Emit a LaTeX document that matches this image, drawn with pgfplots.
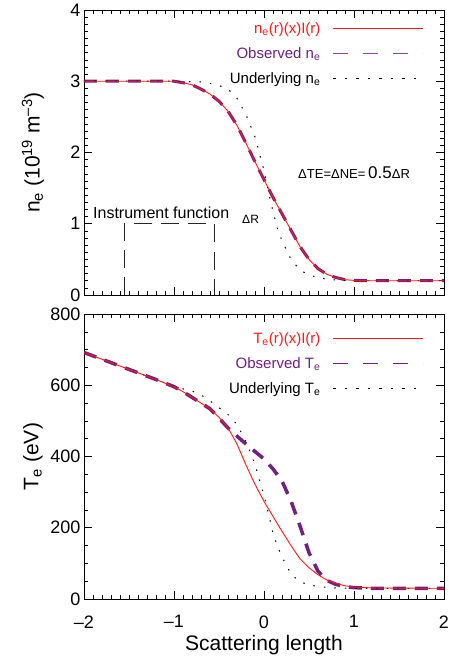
\documentclass[border=0pt]{standalone}
\usepackage{pgfplots}
\pgfplotsset{compat=1.18}
\usepackage{fontspec}
\setmainfont{Liberation Sans}
\definecolor{obs}{RGB}{112,32,128}
\definecolor{redl}{RGB}{255,25,25}
\begin{document}
\begin{tikzpicture}
\pgfplotsset{
  every axis/.append style={
    scale only axis, width=360pt, height=285pt,
    xmin=-2, xmax=2,
    xtick={-2,-1,0,1,2},
    minor x tick num=9,
    tick align=inside,
    major tick length=8pt, minor tick length=4pt,
    every tick/.style={black, line width=0.6pt},
    axis line style={line width=0.8pt},
    tick label style={font=\fontsize{18}{20}\selectfont},
    label style={font=\fontsize{21}{24}\selectfont},
    /pgf/number format/assume math mode=true,
    legend cell align=right, legend plot pos=right,
    legend image code/.code={\draw[#1] (0pt,0pt) -- (90pt,0pt);},
    legend style={draw=none, fill=none, inner sep=0pt, anchor=north east,
      row sep=8.5pt, column sep=10pt,
      font=\fontsize{15}{17}\selectfont},
  },
  every axis y label/.style={at={(axis description cs:0,0.5)}, xshift=-51pt, rotate=90, anchor=center},
  every axis x label/.style={at={(axis description cs:0.5,0)}, yshift=-51pt, anchor=base},
}
% ---------------- top panel ----------------
\begin{axis}[
  at={(0,0)}, anchor=south west,
  ymin=0, ymax=4, ytick={0,1,2,3,4}, minor y tick num=9,
  xticklabels={},
  ylabel={n\textsubscript{e} (10\textsuperscript{19} m\textsuperscript{–3})},
  legend style={at={(axis description cs:0.944,0.964)}},
]
\addplot[obs, line width=3pt, dash pattern=on 13pt off 9pt, forget plot]
coordinates {(-2,3.0) (-1.2,3.0) (-1.0,3.0) (-0.9,2.98) (-0.8,2.95) (-0.7,2.89) (-0.6,2.82) (-0.5,2.72) (-0.4,2.58) (-0.3,2.38) (-0.2,2.13) (-0.1,1.87) (0,1.62) (0.1,1.37) (0.2,1.14) (0.3,0.91) (0.4,0.68) (0.5,0.50) (0.6,0.37) (0.7,0.29) (0.8,0.245) (0.9,0.215) (1.0,0.205) (1.2,0.2) (2,0.2)};
\addplot[black, line width=1pt, dash pattern=on 1.5pt off 9pt, forget plot]
coordinates {(-2,3.0) (-1.0,3.0) (-0.7,2.99) (-0.6,2.97) (-0.5,2.94) (-0.4,2.89) (-0.3,2.76) (-0.2,2.53) (-0.1,2.22) (0,1.75) (0.05,1.45) (0.1,1.17) (0.15,0.93) (0.2,0.76) (0.3,0.50) (0.4,0.35) (0.5,0.28) (0.6,0.245) (0.7,0.225) (0.8,0.21) (1.0,0.2) (2,0.2)};
\addplot[redl, line width=0.9pt, forget plot]
coordinates {(-2,3.0) (-1.2,3.0) (-1.0,3.0) (-0.9,2.98) (-0.8,2.95) (-0.7,2.89) (-0.6,2.82) (-0.5,2.72) (-0.4,2.58) (-0.3,2.38) (-0.2,2.13) (-0.1,1.87) (0,1.62) (0.1,1.37) (0.2,1.14) (0.3,0.91) (0.4,0.68) (0.5,0.50) (0.6,0.37) (0.7,0.29) (0.8,0.245) (0.9,0.215) (1.0,0.205) (1.2,0.2) (2,0.2)};
% instrument function box
\addplot[black!85, line width=1pt, dash pattern=on 18pt off 9pt, forget plot]
coordinates {(-1.55,0) (-1.55,1) (-0.55,1) (-0.55,0)};
\addlegendimage{redl, line width=0.9pt}
\addlegendentry{\textcolor{redl}{n\textsubscript{e}(r)(x)I(r)}}
\addlegendimage{obs!80, line width=1.2pt, dash pattern=on 15pt off 15pt}
\addlegendentry{\textcolor{obs}{Observed n\textsubscript{e}}}
\addlegendimage{black, line width=1pt, dash pattern=on 2.5pt off 9pt}
\addlegendentry{Underlying n\textsubscript{e}}
\node[anchor=base west, inner sep=0pt, font=\fontsize{16}{18}\selectfont] at (axis cs:-1.9,1.08) {Instrument function};
\node[anchor=base west, inner sep=0pt, font=\fontsize{12}{14}\selectfont] at (axis cs:-0.244,1.01) {ΔR};
\node[anchor=base west, inner sep=0pt] at (axis cs:0.378,1.64) {{\fontsize{13}{15}\selectfont ΔTE=ΔNE=} {\fontsize{17}{20}\selectfont 0.5}{\fontsize{13}{15}\selectfont ΔR}};
\end{axis}
% ---------------- bottom panel ----------------
\begin{axis}[
  at={(0,-304pt)}, anchor=south west,
  ymin=0, ymax=800, ytick={0,200,400,600,800}, minor y tick num=3,
  xticklabels={–2,–1,0,1,2},
  xticklabel style={yshift=-13pt},
  ylabel={T\textsubscript{e} (eV)},
  xlabel={Scattering length},
  legend style={at={(axis description cs:0.944,0.943)}},
]
\addplot[obs, line width=3.5pt, dash pattern=on 13pt off 9pt, forget plot]
coordinates {(-2,692) (-1.6,654) (-1.2,616) (-1.0,596) (-0.9,582) (-0.8,566) (-0.7,550) (-0.6,534) (-0.5,508) (-0.4,480) (-0.3,457) (-0.2,435) (-0.1,414) (0,393) (0.1,365) (0.2,331) (0.3,275) (0.4,205) (0.5,130) (0.6,78) (0.7,52) (0.8,41) (0.9,35) (1.0,32) (1.2,30) (2,30)};
\addplot[black, line width=1pt, dash pattern=on 1.5pt off 9pt, forget plot]
coordinates {(-2,692) (-1.6,654) (-1.2,616) (-1.0,597) (-0.9,590) (-0.8,584) (-0.7,573) (-0.6,556) (-0.5,537) (-0.4,518) (-0.3,490) (-0.2,442) (-0.1,378) (0,290) (0.05,240) (0.1,185) (0.15,148) (0.2,118) (0.3,70) (0.4,48) (0.5,40) (0.6,35) (0.7,33) (0.8,31) (1.0,30) (2,30)};
\addplot[redl, line width=0.9pt, forget plot]
coordinates {(-2,692) (-1.6,654) (-1.2,616) (-1.0,596) (-0.9,582) (-0.8,566) (-0.7,550) (-0.6,534) (-0.5,510) (-0.4,481) (-0.3,435) (-0.2,376) (-0.1,322) (0,274) (0.1,232) (0.2,190) (0.3,150) (0.4,113) (0.5,88) (0.6,68) (0.7,53) (0.8,44) (0.9,37) (1.0,34) (1.2,31) (2,30)};
\addlegendimage{redl, line width=0.9pt}
\addlegendentry{\textcolor{redl}{T\textsubscript{e}(r)(x)I(r)}}
\addlegendimage{obs, line width=1.2pt, dash pattern=on 15pt off 15pt}
\addlegendentry{\textcolor{obs}{Observed T\textsubscript{e}}}
\addlegendimage{black, line width=1pt, dash pattern=on 2.5pt off 9pt}
\addlegendentry{Underlying T\textsubscript{e}}
\end{axis}
\pgfresetboundingbox
\path[use as bounding box] (-84pt,-363pt) rectangle (365pt,295pt);
\end{tikzpicture}
\end{document}
